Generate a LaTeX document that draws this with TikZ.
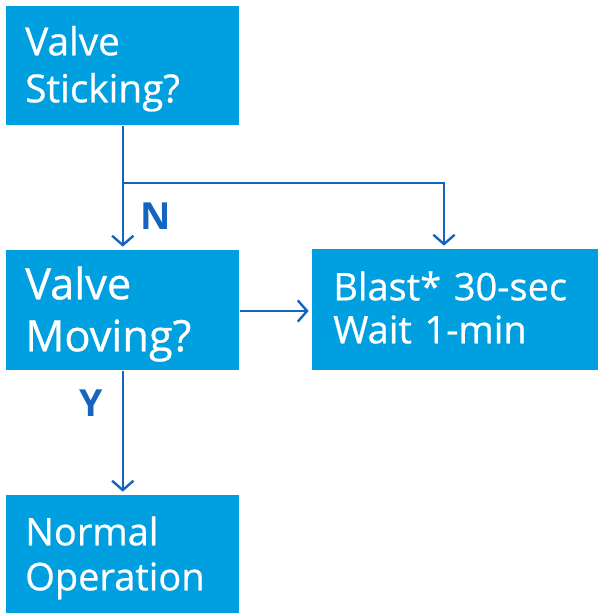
\documentclass[tikz,border=0pt]{standalone}
\usepackage{fontspec}
\setmainfont{Open Sans}
\newfontfamily\boxfont{Open Sans}[FakeBold=0.7]
\usetikzlibrary{arrows.meta}
\definecolor{boxblue}{HTML}{009FE0}
\definecolor{lineblue}{HTML}{1565C0}
\begin{document}
\begin{tikzpicture}[x=0.75pt,y=-0.75pt,
  box/.style={fill=boxblue, text=white, anchor=north west, align=left,
    inner ysep=0pt, inner xsep=14.25pt, text width=146.25pt},
  flow/.style={draw=lineblue, line width=1.8pt,
    -{Straight Barb[length=7pt,width=16pt,line width=1.8pt]}, shorten >=2.5pt},
  tag/.style={text=lineblue, font=\fontsize{28pt}{30pt}\selectfont\bfseries}]
  \useasboundingbox (0,0) rectangle (602,613);

  % process boxes (text height/depth fix the first baseline inside each box)
  \node[box, text height=36.75pt, text depth=52.5pt,
    font=\boxfont\fontsize{29pt}{35.25pt}\selectfont]
    (stick) at (6,6) {Valve\\Sticking?};
  \node[box, text height=36.75pt, text depth=53.25pt,
    font=\boxfont\fontsize{32.5pt}{39pt}\selectfont]
    (move) at (6,250) {Valve\\Moving?};
  \node[box, inner xsep=15.75pt, text width=183pt,
    text height=38.25pt, text depth=52.5pt,
    font=\boxfont\fontsize{28.5pt}{32.25pt}\selectfont]
    (blast) at (312,249) {Blast* 30-sec\\Wait 1-min};
  \node[box, text height=37.5pt, text depth=51pt,
    font=\boxfont\fontsize{28.5pt}{33.75pt}\selectfont]
    (normal) at (6,495) {Normal\\Operation};

  % connectors
  \coordinate (split) at (stick.south |- 0,183);
  \coordinate (turn) at (444,183);
  \draw[flow] (stick.south) -- (move.north);
  \draw[flow] (split) -- (turn) -- (turn |- blast.north);
  \draw[flow] (move.east |- 0,311) -- (blast.west |- 0,311);
  \draw[flow] (move.south) -- (normal.north);

  % branch labels
  \node[tag] (nlabel) at (156,216) {N};
  \node[tag] (ylabel) at (91,403) {Y};
\end{tikzpicture}
\end{document}
